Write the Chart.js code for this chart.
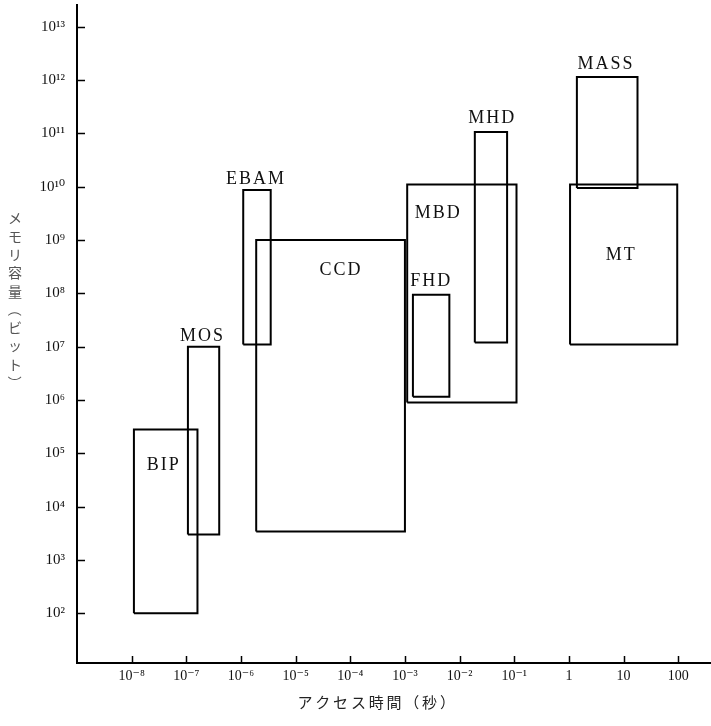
<!DOCTYPE html>
<html>
<head>
<meta charset="utf-8">
<script src="https://cdn.jsdelivr.net/npm/chart.js@4/dist/chart.umd.min.js"></script>
<style>
html,body{margin:0;padding:0;background:#fff;}
#wrap{width:711px;height:726px;position:relative;}
</style>
</head>
<body>
<div id="wrap"><canvas id="c"></canvas></div>
<script>
// Memory technologies: access time (s) vs capacity (bits)
const names     = ['BIP', 'MOS', 'EBAM', 'CCD', 'MBD', 'FHD', 'MHD', 'MASS', 'MT'];
const accessMin = [1.1e-8, 1.07e-7, 1.1e-6, 1.9e-6, 1.1e-3, 1.4e-3, 1.9e-2, 1.4, 1.05];
const accessMax = [1.6e-7, 4.0e-7, 3.5e-6, 1.0e-3, 0.11, 6.5e-3, 7.4e-2, 18, 96];
const capMin    = [1e2, 3e3, 1.1e7, 3.4e3, 9e5, 1.15e6, 1.2e7, 9.5e9, 1.1e7];
const capMax    = [2.8e5, 1e7, 8.7e9, 1e9, 1.1e10, 9.4e7, 1.07e11, 1.15e12, 1.1e10];
// label anchor (data coordinates)
const labelX    = [3.7e-8, 1.9e-7, 1.8e-6, 6.5e-5, 3.9e-3, 2.9e-3, 3.8e-2, 4.6, 8.7];
const labelY    = [6e4, 1.6e7, 1.4e10, 2.7e8, 3.2e9, 1.7e8, 1.9e11, 2.0e12, 5.3e8];
// tick values and labels
const xTicks = [1e-8, 1e-7, 1e-6, 1e-5, 1e-4, 1e-3, 1e-2, 1e-1, 1, 10, 100];
const xTickLabels = ['10⁻⁸','10⁻⁷','10⁻⁶','10⁻⁵','10⁻⁴','10⁻³','10⁻²','10⁻¹','1','10','100'];
const yTicks = [1e2, 1e3, 1e4, 1e5, 1e6, 1e7, 1e8, 1e9, 1e10, 1e11, 1e12, 1e13];
const yTickLabels = ['10²','10³','10⁴','10⁵','10⁶','10⁷','10⁸','10⁹','10¹⁰','10¹¹','10¹²','10¹³'];
const xTitle = 'アクセス時間（秒）';
const yTitle = ['メ','モ','リ','容','量','（','ビ','ッ','ト','）'];

const SERIF = '"Liberation Serif", "DejaVu Serif", serif';

const datasets = names.map((n, i) => ({
  label: n,
  data: [
    {x: accessMin[i], y: capMin[i]},
    {x: accessMin[i], y: capMax[i]},
    {x: accessMax[i], y: capMax[i]},
    {x: accessMax[i], y: capMin[i]},
    {x: accessMin[i], y: capMin[i]}
  ],
  showLine: true,
  fill: false,
  borderColor: '#000',
  borderWidth: 2,
  pointRadius: 0,
  tension: 0
}));

const decor = {
  id: 'decor',
  afterDatasetsDraw(chart) {
    const ctx = chart.ctx;
    const xs = chart.scales.x, ys = chart.scales.y;
    const ca = chart.chartArea;
    ctx.save();
    // inward tick marks
    ctx.strokeStyle = '#000';
    ctx.lineWidth = 1.5;
    ctx.beginPath();
    yTicks.forEach(v => {
      const y = Math.round(ys.getPixelForValue(v)) + 0.5;
      ctx.moveTo(ca.left, y); ctx.lineTo(ca.left + 8, y);
    });
    xTicks.forEach(v => {
      const x = Math.round(xs.getPixelForValue(v)) + 0.5;
      ctx.moveTo(x, ca.bottom); ctx.lineTo(x, ca.bottom - 7);
    });
    ctx.stroke();
    // box labels
    ctx.fillStyle = '#111';
    ctx.font = '18px ' + SERIF;
    ctx.textAlign = 'center';
    ctx.textBaseline = 'middle';
    try { ctx.letterSpacing = '2px'; } catch (e) {}
    names.forEach((n, i) => {
      ctx.fillText(n, xs.getPixelForValue(labelX[i]) + 1, ys.getPixelForValue(labelY[i]));
    });
    try { ctx.letterSpacing = '0px'; } catch (e) {}
    // x-axis title, spaced characters
    ctx.font = '15px "Noto Sans CJK JP", sans-serif';
    ctx.fillStyle = '#222';
    const pitch = 17.8;
    const startX = 305;
    [...xTitle].forEach((ch, k) => {
      ctx.fillText(ch, startX + k * pitch, 702);
    });
    // y-axis title, vertical (parentheses rotated)
    ctx.font = '14px "Noto Sans CJK JP", sans-serif';
    ctx.fillStyle = '#555';
    yTitle.forEach((ch, k) => {
      const cy = 218 + k * 18.3;
      if (ch === '（' || ch === '）') {
        ctx.save();
        ctx.translate(15, cy);
        ctx.rotate(Math.PI / 2);
        ctx.fillText(ch, 0, 0);
        ctx.restore();
      } else {
        ctx.fillText(ch, 15, cy);
      }
    });
    ctx.restore();
  }
};

function zeroPad(s) { s.paddingTop = 0; s.paddingBottom = 0; s.paddingLeft = 0; s.paddingRight = 0; }

new Chart(document.getElementById('c'), {
  type: 'scatter',
  data: { datasets },
  options: {
    responsive: true,
    maintainAspectRatio: false,
    animation: false,
    layout: { padding: { top: 5, right: 0, left: 0, bottom: 0 } },
    plugins: { legend: { display: false }, tooltip: { enabled: false } },
    scales: {
      x: {
        type: 'logarithmic',
        min: 1e-9,
        max: Math.pow(10, 2.6),
        afterBuildTicks: s => { s.ticks = xTicks.map(v => ({ value: v })); },
        afterFit: s => { s.height = 63; zeroPad(s); },
        ticks: {
          autoSkip: false,
          maxRotation: 0,
          padding: 5,
          color: '#111',
          font: { family: SERIF, size: 14 },
          callback: (v) => { const k = xTicks.indexOf(v); return k >= 0 ? xTickLabels[k] : ''; }
        },
        grid: { display: false, drawTicks: false },
        border: { display: true, color: '#000', width: 2 }
      },
      y: {
        type: 'logarithmic',
        min: Math.pow(10, 1.067),
        max: Math.pow(10, 13.41),
        afterBuildTicks: s => { s.ticks = yTicks.map(v => ({ value: v })); },
        afterFit: s => { s.width = 77; zeroPad(s); },
        ticks: {
          autoSkip: false,
          padding: 12,
          color: '#111',
          font: { family: SERIF, size: 15 },
          callback: (v) => { const k = yTicks.indexOf(v); return k >= 0 ? yTickLabels[k] : ''; }
        },
        grid: { display: false, drawTicks: false },
        border: { display: true, color: '#000', width: 2 }
      }
    }
  },
  plugins: [decor]
});
</script>
</body>
</html>
